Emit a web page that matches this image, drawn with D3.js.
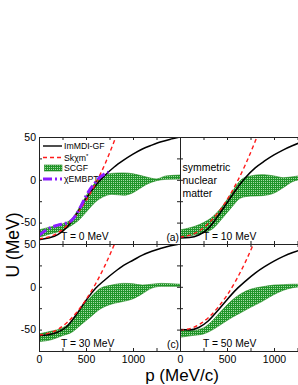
<!DOCTYPE html>
<html>
<head>
<meta charset="utf-8">
<script src="https://d3js.org/d3.v7.min.js"></script>
<style>
  body { margin: 0; background: #fff; }
  text { font-family: Arial, "Liberation Sans", Helvetica, sans-serif; }
</style>
</head>
<body>
<script>
// panel temperatures (MeV) and corner tags
var temps = [0, 10, 30, 50];
var tags = ["(a)", "", "(c)", ""];

// ImMDI-GF, [p (MeV/c), U (MeV)]
var immdi = [
  [[0,-70],[100,-68],[200,-64],[300,-55],[400,-40],[500,-22],[600,-7],[700,5],[800,15],[900,23],[1000,30],[1100,36],[1200,40.5],[1300,44.5],[1400,47.5],[1500,50]],
  [[0,-68],[100,-67.5],[200,-64.5],[300,-57],[400,-43],[500,-27],[600,-11],[700,3],[800,14],[900,22],[1000,29],[1100,35],[1200,40],[1300,44.5],[1400,48],[1500,51]],
  [[0,-57],[100,-56],[200,-53],[300,-46],[400,-32],[500,-16],[600,-2],[700,8],[800,17],[900,25],[1000,31],[1100,37],[1200,41.5],[1300,45],[1400,48],[1500,50]],
  [[0,-50],[100,-50.5],[200,-47.5],[300,-40],[400,-28],[500,-15],[600,-3],[700,7],[800,16],[900,23.5],[1000,30],[1100,35.5],[1200,40],[1300,43.5],[1400,46.5],[1500,49]]
];

// Skxm*, [p, U]
var skxm = [
  [[0,-69],[200,-62],[400,-40.5],[500,-24.5],[600,-5],[700,18],[800,45],[850,59.5]],
  [[0,-67],[200,-60],[400,-39],[500,-23.3],[600,-4],[700,18.8],[800,45],[850,59.4]],
  [[0,-56.4],[200,-49.8],[400,-30],[500,-15],[600,3],[700,24.5],[800,49.2],[850,62.8]],
  [[0,-51],[200,-44.4],[400,-24.6],[500,-9.8],[600,8.4],[700,30],[800,54.6]]
];

// SCGF band, [p, U low, U high]
var scgf = [
  [[0,-67,-58.5],[125,-63,-55],[250,-59,-51.5],[350,-53,-45.5],[420,-47.5,-34],[500,-38,-19],[600,-26,-3],[700,-19,5],[775,-17,7.5],[900,-18,8],[1000,-15,7],[1060,-11,5.5],[1150,-5,3],[1250,-1,1],[1350,0.5,4.5],[1500,1,5.5]],
  [[0,-67,-58.5],[125,-65,-55.5],[250,-62,-50],[350,-57,-43],[450,-45,-31],[550,-32,-15],[650,-21,0],[750,-19,4.5],[875,-18.5,6],[1000,-15.5,4.5],[1100,-9,2.5],[1200,-2,3.5],[1300,0.5,5],[1500,1,5]],
  [[0,-64,-55],[125,-62,-52],[250,-57,-48],[350,-53,-40],[450,-44,-25],[550,-35,-12],[650,-26,-2],[775,-20,2],[900,-17,4],[1000,-14,3.5],[1100,-8,2],[1200,-1.5,3],[1300,0.5,4],[1500,0.5,3]],
  [[0,-59,-50],[125,-57,-51],[250,-55,-48],[350,-50,-39],[450,-43,-27],[550,-36,-16],[650,-30,-8],[750,-24,-3],[875,-17,0],[1000,-9,2],[1100,-4,2.5],[1200,-1,3],[1300,0,3],[1500,0.5,3]]
];

// xEMBPT, T = 0 only
var xembpt = [[0,-65],[100,-57],[200,-53],[300,-50],[350,-47],[400,-40],[450,-30],[500,-19],[550,-10],[600,-3],[650,3],[700,7],[740,9]];

var legendNames = ["ImMDI-GF", "Sk\u03c7m", "SCGF", "\u03c7EMBPT"];

// whole-pixel panel origins keep the 2px hatch crisp
var left = 39, top0 = 137, pw = 141, ph = 107;

var svg = d3.select("body").append("svg")
    .attr("width", 298)
    .attr("height", 385);

var defs = svg.append("defs");

// hatch tiles share one page-wide grid, whatever the panel offset
function hatch(id, ox, oy) {
  var p = defs.append("pattern")
      .attr("id", id)
      .attr("x", 1 - ox).attr("y", -oy)
      .attr("width", 2).attr("height", 2)
      .attr("patternUnits", "userSpaceOnUse");
  p.append("rect").attr("width", 2).attr("height", 2).attr("fill", "#21952a");
  p.append("rect").attr("width", 1).attr("height", 1).attr("fill", "#a6dca6");
  return "url(#" + id + ")";
}

defs.append("clipPath").attr("id", "clip")
  .append("rect").attr("width", pw).attr("height", ph);

var x = d3.scaleLinear().domain([0, 1500]).range([0, pw]);
var y = d3.scaleLinear().domain([-75, 50]).range([ph, 0]);

var line = d3.line().x(d => x(d[0])).y(d => y(d[1])).curve(d3.curveMonotoneX);
var area = d3.area().x(d => x(d[0])).y0(d => y(d[1])).y1(d => y(d[2])).curve(d3.curveMonotoneX);

var xticks = d3.range(0, 1501, 250);
var yticks = d3.range(-75, 51, 25);

temps.forEach(function(T, i) {
  var col = i % 2, row = Math.floor(i / 2);
  var ox = left + col * pw, oy = top0 + row * ph;
  var fill = hatch("hatch" + i, ox, oy);

  var g = svg.append("g")
      .attr("transform", "translate(" + ox + "," + oy + ")");

  var plot = g.append("g").attr("clip-path", "url(#clip)");

  plot.append("path")
      .datum(scgf[i])
      .attr("fill", fill)
      .attr("stroke", "#1a851a")
      .attr("stroke-width", 0.6)
      .attr("d", area);

  plot.append("path")
      .datum(immdi[i])
      .attr("fill", "none")
      .attr("stroke", "#000")
      .attr("stroke-width", 1.5)
      .attr("d", line);

  plot.append("path")
      .datum(skxm[i])
      .attr("fill", "none")
      .attr("stroke", "#ff1a1a")
      .attr("stroke-width", 1.4)
      .attr("stroke-dasharray", "4,3")
      .attr("d", line);

  if (i == 0) {
    plot.append("path")
        .datum(xembpt)
        .attr("fill", "none")
        .attr("stroke", "#8a1cff")
        .attr("stroke-width", 3)
        .attr("stroke-dasharray", "9,3,2,3")
        .attr("d", line);
  }

  // frame + inward ticks
  g.append("rect")
      .attr("x", 0.5).attr("y", 0.5)
      .attr("width", pw).attr("height", ph)
      .attr("fill", "none").attr("stroke", "#222").attr("stroke-width", 1);

  var ax = [
    d3.axisBottom(x).tickValues(xticks)
      .tickFormat(d => row == 1 && d % 500 == 0 && d < 1500 ? d : ""),
    d3.axisTop(x).tickValues(xticks).tickFormat(""),
    d3.axisLeft(y).tickValues(yticks)
      .tickFormat(d => col == 0 && d % 50 == 0 ? d : ""),
    d3.axisRight(y).tickValues(yticks).tickFormat("")
  ];
  var pos = ["translate(0," + ph + ")", null, null, "translate(" + pw + ",0)"];
  ax.forEach(function(a, k) {
    var ag = g.append("g")
        .attr("transform", pos[k])
        .call(a.tickSizeInner(-3).tickSizeOuter(0).tickPadding(k == 0 ? 4.5 : 3));
    ag.select(".domain").remove();
    ag.selectAll("line").attr("stroke", "#222");
    ag.selectAll("text").attr("font-size", 10.5).attr("fill", "#000")
      .style("font-family", "Arial, 'Liberation Sans', sans-serif");
  });

  g.append("text")
      .attr("x", col == 0 ? 22 : 23)
      .attr("y", ph - 4)
      .attr("font-size", 10.3)
      .text("T = " + T + " MeV");

  if (tags[i]) {
    g.append("text")
        .attr("x", pw - 1)
        .attr("y", ph - 3)
        .attr("text-anchor", "end")
        .attr("font-size", 10.3)
        .text(tags[i]);
  }

  if (i == 1) {
    g.append("text")
        .attr("x", 2.5)
        .attr("y", 34)
        .attr("font-size", 10.5)
        .selectAll("tspan")
        .data(["symmetric", "nuclear", "matter"])
        .join("tspan")
          .attr("x", 2.5)
          .attr("dy", (d, j) => j ? 13 : 0)
          .text(d => d);
  }

  if (i == 0) {
    var leg = g.append("g").attr("transform", "translate(4,0)");
    var ly = [9, 20.5, 31, 42];
    legendNames.forEach(function(name, j) {
      var r = leg.append("g").attr("transform", "translate(0," + ly[j] + ")");
      if (j == 2) {
        r.append("rect").attr("x", 1.5).attr("y", -3).attr("width", 17.5).attr("height", 6)
          .attr("fill", fill).attr("stroke", "#1a851a").attr("stroke-width", 0.6);
      } else {
        r.append("line").attr("x1", 0).attr("x2", 19)
          .attr("stroke", ["#000", "#ff1a1a", null, "#8a1cff"][j])
          .attr("stroke-width", j == 3 ? 3 : 1.4)
          .attr("stroke-dasharray", [null, "4,3", null, "9,3,2,3"][j]);
      }
      var t = r.append("text").attr("x", 21).attr("y", 3).attr("font-size", 8.7).text(name);
      if (j == 1) t.append("tspan").attr("dy", -3).attr("font-size", 6).text("*");
    });
  }
});

svg.append("text")
    .attr("transform", "translate(18.5,245) rotate(-90)")
    .attr("text-anchor", "middle")
    .attr("font-size", 17.5)
    .text("U (MeV)");

svg.append("text")
    .attr("x", 182)
    .attr("y", 381)
    .attr("text-anchor", "middle")
    .attr("font-size", 17)
    .text("p (MeV/c)");
</script>
</body>
</html>
